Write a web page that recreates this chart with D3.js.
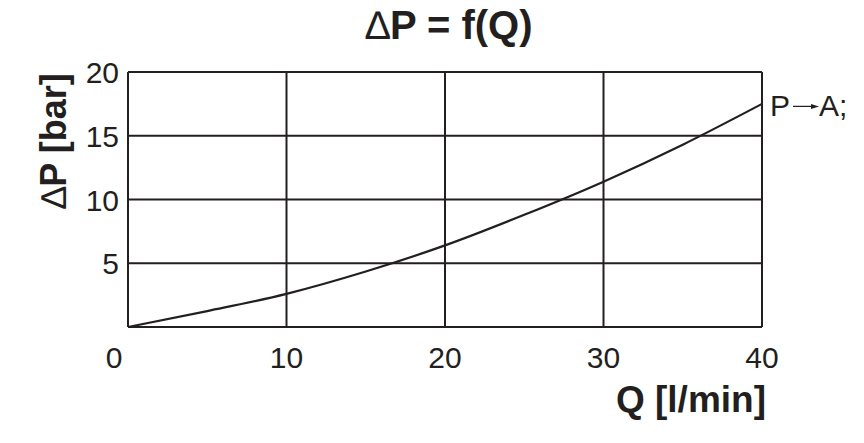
<!DOCTYPE html>
<html>
<head>
<meta charset="utf-8">
<script src="https://cdn.jsdelivr.net/npm/d3@7"></script>
<style>
  body { margin: 0; background: #fff; }
  text { font-family: "Liberation Sans", Arial, sans-serif; fill: #231f20; }
</style>
</head>
<body>
<div id="chart"></div>
<script>
// flow vs pressure drop
var flow = [0, 5, 10, 15, 20, 25, 30, 35, 40];
var dp = [0, 1.25, 2.6, 4.35, 6.4, 8.8, 11.4, 14.3, 17.5];
var xTicks = [0, 10, 20, 30, 40];
var yTicks = [5, 10, 15, 20];
var seriesLabel = ["P", "A;"];

var W = 864, H = 443,
    margin = {top: 72, right: 102, bottom: 116, left: 128},
    width = W - margin.left - margin.right,
    height = H - margin.top - margin.bottom;

var ink = "#231f20";

var svg = d3.select("#chart").append("svg")
    .attr("width", W)
    .attr("height", H);

var x = d3.scaleLinear().domain([0, 40]).range([margin.left, margin.left + width]),
    y = d3.scaleLinear().domain([0, 20]).range([margin.top + height, margin.top]);

// grid
svg.append("g").selectAll("line.v")
    .data(xTicks)
  .enter().append("line")
    .attr("x1", function(d) { return x(d); })
    .attr("x2", function(d) { return x(d); })
    .attr("y1", y(0))
    .attr("y2", y(20))
    .attr("stroke", ink)
    .attr("stroke-width", 2);

svg.append("g").selectAll("line.h")
    .data([0].concat(yTicks))
  .enter().append("line")
    .attr("x1", x(0))
    .attr("x2", x(40))
    .attr("y1", function(d) { return y(d); })
    .attr("y2", function(d) { return y(d); })
    .attr("stroke", ink)
    .attr("stroke-width", 2);

// tick labels
svg.append("g").selectAll("text")
    .data(xTicks)
  .enter().append("text")
    .attr("x", function(d) { return x(d) + (d === 0 ? -14 : 0); })
    .attr("y", 368)
    .attr("text-anchor", "middle")
    .style("font-size", "30px")
    .text(function(d) { return d; });

svg.append("g").selectAll("text")
    .data(yTicks)
  .enter().append("text")
    .attr("x", x(0) - 9)
    .attr("y", function(d) { return y(d) + 11; })
    .attr("text-anchor", "end")
    .style("font-size", "30px")
    .text(function(d) { return d; });

// curve
var line = d3.line()
    .curve(d3.curveMonotoneX)
    .x(function(d, i) { return x(flow[i]); })
    .y(function(d) { return y(d); });

svg.append("path")
    .datum(dp)
    .attr("d", line)
    .attr("fill", "none")
    .attr("stroke", ink)
    .attr("stroke-width", 2.2);

// series label P -> A;
var lx = x(40) + 8, ly = y(dp[dp.length - 1]) + 12;
var lab = svg.append("g").attr("transform", "translate(" + lx + "," + ly + ")");
lab.append("text").attr("x", 0).attr("y", 0).style("font-size", "30px").text(seriesLabel[0]);
lab.append("line")
    .attr("x1", 23).attr("x2", 42)
    .attr("y1", -9.5).attr("y2", -9.5)
    .attr("stroke", ink).attr("stroke-width", 1.2);
lab.append("path")
    .attr("d", "M41,-12L49,-9.5L41,-7Z")
    .attr("fill", ink);
lab.append("text").attr("x", 49).attr("y", 0).style("font-size", "30px").text(seriesLabel[1]);

// title
var title = svg.append("text")
    .attr("x", 449)
    .attr("y", 39)
    .attr("text-anchor", "middle")
    .style("font-size", "40px")
    .style("font-weight", "bold");
title.append("tspan").style("font-weight", "normal").text("\u2206");
title.append("tspan").text("P = f(Q)");

// axis titles
svg.append("text")
    .attr("x", 766)
    .attr("y", 412)
    .attr("text-anchor", "end")
    .style("font-size", "37px")
    .style("font-weight", "bold")
    .text("Q [l/min]");

var yl = svg.append("text")
    .attr("transform", "translate(66,141) rotate(-90)")
    .attr("text-anchor", "middle")
    .style("font-size", "36px")
    .style("font-weight", "bold");
yl.append("tspan").style("font-weight", "normal").text("\u2206");
yl.append("tspan").text("P [bar]");
</script>
</body>
</html>
